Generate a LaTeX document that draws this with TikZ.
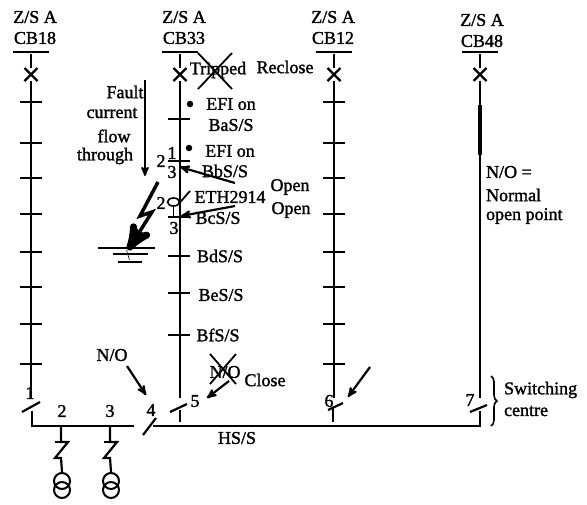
\documentclass[tikz,border=0pt]{standalone}
\usepackage{fontspec}
\setmainfont{Liberation Serif}[UprightFeatures={FakeBold=1.5}]
\usetikzlibrary{positioning}
\usetikzlibrary{arrows}
\usetikzlibrary{shapes.misc}
\usetikzlibrary{shapes.geometric}
\usetikzlibrary{decorations.pathreplacing}

\tikzset{
  lbl/.style={inner sep=0pt,font=\fontsize{18}{18}\selectfont},
  bar/.style={fill=black,inner sep=0pt,minimum height=2.2pt,minimum width=#1},
  bar/.default=22pt,
  xmark/.style={draw,cross out,line width=2.4pt,inner sep=0pt,minimum size=5pt,outer sep=4pt},
  xover/.style={draw,cross out,line width=1.8pt,inner sep=0pt,outer sep=0pt},
  dot/.style={circle,fill=black,inner sep=0pt,minimum size=6.5pt},
  coil/.style={circle,draw,inner sep=0pt,minimum size=#1,line width=2pt},
}

\begin{document}
\begin{tikzpicture}[x=1pt,y=-1pt,on grid,line width=2.2pt,>=stealth']
        \useasboundingbox (0,0) rectangle (587,504);

        % feeder heads
        \foreach \n/\xa/\xt/\yt in {18/31/35/17,33/180/184/17,12/334/333/17,48/480/482/20}{
          \node[lbl] (zs\n) at (\xt,\yt) {Z/S A};
          \node[lbl] (cb\n) [below=21pt of zs\n] {CB\n};
          \node[bar=36pt] (top\n) at (\xa,52) {};
          \node[xmark] (brk\n) at (\xa,74.5) {};
          \coordinate (end\n) at (\xa,398);
          \draw (top\n) -- (brk\n);
          \draw (brk\n) -- (end\n);
        }

        % ticks along the feeders
        \foreach \y [count=\i] in {102,143,178,214,252,287,324,364}{
          \node[bar] (a\i) at (31,\y) {};
          \node[bar] (c\i) at (334,\y) {};
        }
        \foreach \y [count=\i] in {119,161,217,256,293,335}{
          \node[bar] (b\i) at (179,\y) {};
        }
        \coordinate (thicka) at (480,105);
        \coordinate (thickb) at (480,155);
        \draw[line width=3.2pt] (thicka) -- (thickb);

        % busbar
        \coordinate (busl) at (32,426);
        \coordinate (bus1) at (32,411);
        \coordinate (gapl) at (134,426);
        \coordinate (gapr) at (153,426);
        \coordinate (busr) at (480,426);
        \coordinate (bus7) at (480,411);
        \coordinate (bus5) at (180,410);
        \coordinate (foot5) at (180,422);
        \coordinate (bus6) at (333,408);
        \coordinate (foot6) at (333,422);
        \draw (bus1) -- (busl) -- (gapl);
        \draw (gapr) -- (busr) -- (bus7);
        \draw (bus5) -- (foot5);
        \draw (bus6) -- (foot6);

        % open switches
        \foreach \n/\xa/\ya/\xb/\yb in {1/22/412/40/402,4/143/435/156/418,5/170/412/187/404,6/328/410/343/403,7/470/412/487/405}{
          \coordinate (swa\n) at (\xa,\ya);
          \coordinate (swb\n) at (\xb,\yb);
          \draw (swa\n) -- (swb\n);
        }
        \foreach \n/\xb/\yb in {1/30/393,2/62/411,3/110/411,4/151/410,5/195/401,6/329/401,7/470/400}{
          \node[lbl] (num\n) at (\xb,\yb) {\n};
        }

        % transformers
        \foreach \n/\xa in {1/61,2/110}{
          \coordinate (tap\n) at (\xa,426);
          \coordinate (za\n) at (\xa,442);
          \coordinate (zb\n) at (\xa+7,442);
          \coordinate (zc\n) at (\xa-6,458);
          \coordinate (zd\n) at (\xa,458);
          \node[coil=16pt] (tra\n) at (\xa+1,481) {};
          \node[coil=16pt] (trb\n) [below=9pt of tra\n] {};
          \draw[line width=2.2pt] (tap\n) -- (za\n) -- (zb\n) -- (zc\n) -- (zd\n) -- (tra\n.north);
          \draw[line width=2.2pt] (za\n) -- ++(-6,0);
        }

        % fault
        \coordinate (fltop) at (145,80);
        \coordinate (flbot) at (145,176);
        \draw[->,line width=2pt] (fltop) -- (flbot);
        \node[lbl] (fault) at (125,92) {Fault};
        \node[lbl] (current) at (112,113) {current};
        \node[lbl] (flow) at (114,136) {flow};
        \node[lbl] (through) at (105,156) {through};

        \coordinate (bolta) at (158,182);
        \coordinate (boltb) at (140,216);
        \coordinate (boltc) at (152,212);
        \coordinate (boltm) at (140,231);
        \coordinate (boltd) at (128,250);
        \draw[line width=3.5pt,line join=miter] (bolta) -- (boltb) -- (boltc) -- (boltm);
        \draw[line width=7pt,->] (boltm) -- (boltd);
        \node[bar=57pt] (gnda) at (126,248) {};
        \node[bar=35pt] (gndb) at (130,254) {};
        \node[bar=24pt] (gndc) at (130,262) {};
        \draw[line width=0.6pt] (gnda) -- (gndc);

        % the open point at ETH2914
        \node[draw,ellipse,inner sep=0pt,minimum width=12pt,minimum height=8pt,line width=1.6pt] (eth) at (173.5,202) {};
        \coordinate (etha) at (190,191);
        \draw[line width=1.8pt] (eth.east) -- (etha);
        \draw[line width=1.8pt] (eth.south) -- (eth.south |- b3);

        % labels on the middle feeder
        \node[dot] (dota) at (190,104) {};
        \node[lbl] (efia) at (231,104) {EFI on};
        \node[lbl] (basb) [below=21pt of efia] {BaS/S};
        \node[dot] (dotb) at (189,148) {};
        \node[lbl] (efib) at (230,151) {EFI on};
        \node[lbl] (bbsb) at (225,171) {BbS/S};
        \node[lbl] (ethl) at (230,197) {ETH2914};
        \node[lbl] (bcsb) at (218,218) {BcS/S};
        \node[lbl] (bdsb) at (220,256) {BdS/S};
        \node[lbl] (besb) at (221,295) {BeS/S};
        \node[lbl] (bfsb) at (218,335) {BfS/S};
        \node[lbl] (noa) at (161,161) {2};
        \node[lbl] (nob) at (172,153) {1};
        \node[lbl] (noc) at (172,172) {3};
        \node[lbl] (nod) at (161,203) {2};
        \node[lbl] (noe) at (174,228) {3};
        \node[lbl] (opena) at (290,187) {Open};
        \node[lbl] (openb) at (291,210) {Open};

        \coordinate (bba) at (235,183);
        \coordinate (bbb) at (180,167);
        \coordinate (bca) at (235,206);
        \coordinate (bcb) at (181,216);

        % operations
        \node[lbl] (trip) at (218,70) {Tripped};
        \node[xover,minimum width=34pt,minimum height=36pt] (tripx) at (215,71) {};
        \node[lbl] (recl) at (285,67) {Reclose};
        \node[lbl] (nopen) at (225,372) {N/O};
        \node[xover,minimum width=26pt,minimum height=30pt] (nopenx) at (223,369) {};
        \node[lbl] (close) at (265,380) {Close};
        \node[lbl] (noleft) at (112,355) {N/O};
        \node[lbl] (hss) at (237,438) {HS/S};

        \coordinate (sixa) at (370,367);
        \coordinate (sixb) at (348,397);
        \coordinate (fivea) at (229,381);
        \coordinate (fiveb) at (207,398);
        \coordinate (foura) at (127,366);
        \coordinate (fourb) at (146,395);

        \path [->,line width=2.2pt]
          (bba) edge [] node {} (bbb)
          (bca) edge [] node {} (bcb)
          (sixa) edge [] node {} (sixb)
          (fivea) edge [] node {} (fiveb)
          (foura) edge [] node {} (fourb);

        % right hand notes
        \node[lbl,anchor=west] (nnote) at (485,172) {N/O =};
        \node[lbl,anchor=west] (nnoteb) at (485,195) {Normal};
        \node[lbl,anchor=west] (nnotec) at (485,216) {open point};
        \node[lbl,anchor=west] (swc) at (503,390) {Switching};
        \node[lbl,anchor=west] (swd) at (503,411) {centre};
        \coordinate (bra) at (491,376);
        \coordinate (brb) at (491,426);
        \draw[decorate,decoration={brace,amplitude=6pt},line width=1.6pt] (bra) -- (brb);
\end{tikzpicture}
\end{document}
